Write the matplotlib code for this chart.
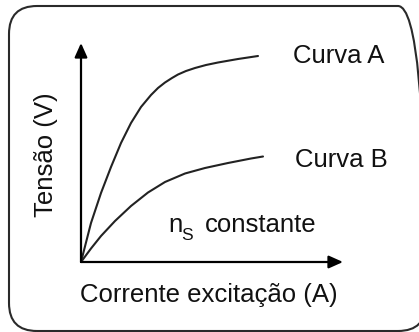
import matplotlib
matplotlib.use("Agg")
import matplotlib.pyplot as plt
from matplotlib.patches import FancyBboxPatch

plt.rcParams['font.family'] = ['Liberation Sans', 'DejaVu Sans']

# Data (arbitrary units: excitation current vs voltage)
curve_a_x = [0, 10, 20, 30, 40, 50, 60, 70, 77, 84, 91, 97, 105, 114, 125, 137, 157, 177]
curve_a_y = [0, 39, 69, 95, 119, 139, 155, 167, 174, 179.5, 184, 187.5, 191, 194, 197, 199.5, 203, 206]
curve_b_x = [0, 10, 20, 34, 50, 67, 84, 104, 124, 147, 170, 182]
curve_b_y = [0, 13.5, 26, 41, 56, 69.5, 80, 88.5, 94, 99, 103.5, 105.5]

label_a = "Curva A"
label_b = "Curva B"
xlabel = "Corrente excitação (A)"
ylabel = "Tensão (V)"
note_main = "n"
note_sub = "S"
note_rest = "constante"

x_axis_end = 262
y_axis_end = 219

fig = plt.figure(figsize=(4.19, 3.32), dpi=100)
ax = fig.add_axes([0, 0, 1, 1])
ax.set_xlim(-81, 338)
ax.set_ylim(-70, 262)
ax.axis('off')

# Rounded frame (right side runs off the picture)
frame = FancyBboxPatch((-72, -69), 417, 325,
                       boxstyle="round,pad=0,rounding_size=28",
                       fill=False, edgecolor='#2a2a2a', linewidth=1.5)
ax.add_patch(frame)

# Axes arrows
arrow_kw = dict(arrowstyle='-|>,head_length=0.85,head_width=0.38',
                lw=1.6, color='black', shrinkA=0, shrinkB=0)
ax.annotate('', xy=(x_axis_end, 0), xytext=(0, 0), arrowprops=arrow_kw)
ax.annotate('', xy=(0, y_axis_end), xytext=(0, 0), arrowprops=arrow_kw)

# Curves
ax.plot(curve_a_x, curve_a_y, color='#222222', lw=1.5,
        solid_capstyle='round', solid_joinstyle='round')
ax.plot(curve_b_x, curve_b_y, color='#222222', lw=1.5,
        solid_capstyle='round', solid_joinstyle='round')

fs = 18.5
tc = '#111111'
ax.text(212, 199, label_a, fontsize=fs, color=tc, ha='left', va='baseline')
ax.text(214, 95, label_b, fontsize=fs, color=tc, ha='left', va='baseline')
ax.text(87, 30, note_main, fontsize=fs, color=tc, ha='left', va='baseline')
ax.text(100, 22, note_sub, fontsize=12.5, color=tc, ha='left', va='baseline')
ax.text(124, 30, note_rest, fontsize=fs, color=tc, ha='left', va='baseline')
ax.text(-1, -40, xlabel, fontsize=fs, color=tc, ha='left', va='baseline')
ax.text(-28, 45, ylabel, fontsize=fs, color=tc, ha='left', va='baseline',
        rotation=90, rotation_mode='anchor')

fig.savefig('out.png', dpi=100, facecolor='white')
